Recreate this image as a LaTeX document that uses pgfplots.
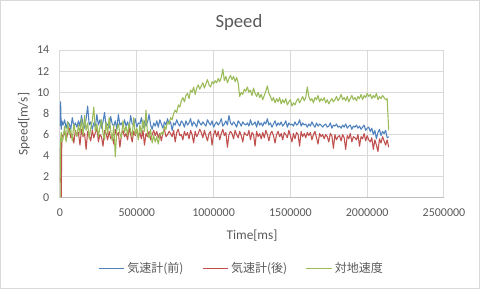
\documentclass[border=0pt]{standalone}
\usepackage{fontspec}
\setmainfont{Carlito}
\newfontfamily\cjk{Noto Sans CJK JP}
\usepackage{pgfplots}
\usepackage{pgfplotstable}
\pgfplotsset{compat=1.18}
\definecolor{txt}{HTML}{595959}
\definecolor{grd}{HTML}{D9D9D9}
\definecolor{axl}{HTML}{BFBFBF}
\definecolor{cB}{HTML}{4F81BD}
\definecolor{cR}{HTML}{C0504D}
\definecolor{cG}{HTML}{9BBB59}
\pgfplotstableread{
t B R G
0 6.8 1.5 0
4000 9.1 5.2 5.5
8000 6.5 0.1 6.2
12000 7.3 6.0 5.3
20000 6.9 5.8 5.6
30000 7.4 6.3 6.8
40000 6.6 5.5 5.3
50000 7.2 6.1 7.2
60000 7.0 6.6 6.0
70000 6.5 5.7 6.5
80000 7.6 6.0 5.4
90000 6.8 5.2 7.0
100000 7.1 6.4 6.2
110000 6.7 5.9 5.8
120000 7.3 6.2 6.9
130000 6.8 5.0 6.1
140000 7.8 6.5 7.5
150000 7.0 5.8 5.9
160000 6.6 6.1 7.8
170000 7.5 4.6 6.4
180000 8.7 6.3 7.1
190000 6.9 5.9 5.6
200000 7.2 5.4 6.6
210000 6.5 6.4 7.3
220000 7.1 5.7 8.6
230000 6.7 6.2 6.3
240000 7.9 6.6 7.0
250000 6.9 5.3 5.8
260000 7.4 6.0 6.7
270000 6.6 5.8 7.4
280000 7.2 4.9 6.1
290000 8.1 6.4 5.5
300000 6.8 6.1 7.2
310000 7.0 5.5 6.0
320000 6.6 6.3 7.6
330000 7.7 5.6 6.4
340000 7.0 6.0 5.4
350000 6.8 5.1 6.9
360000 7.3 6.5 3.9
370000 6.5 5.9 6.5
380000 7.9 6.2 7.0
390000 6.9 4.8 6.1
400000 7.1 6.0 5.7
410000 6.7 6.4 7.3
420000 7.4 5.8 6.2
430000 6.8 6.1 6.8
440000 7.2 5.5 5.9
450000 6.6 6.6 7.1
460000 7.8 6.0 6.4
470000 7.0 5.3 5.8
480000 6.9 6.3 7.6
490000 7.5 5.9 6.0
500000 6.7 6.5 6.6
510000 7.1 5.7 5.5
520000 7.0 6.2 6.9
530000 7.6 5.6 6.1
540000 6.6 6.4 7.4
550000 7.3 5.0 6.3
560000 6.8 6.1 8.3
570000 7.2 5.8 6.0
580000 7.9 6.3 5.7
590000 6.9 5.5 6.5
600000 6.5 6.0 5.2
610000 7.1 6.4 5.9
620000 6.8 5.9 5.3
630000 7.3 6.3 5.8
640000 6.7 5.7 5.1
650000 7.4 6.1 5.9
660000 7.0 5.4 6.2
670000 6.6 6.2 6.0
680000 7.2 6.5 6.8
690000 6.9 5.8 6.5
700000 7.5 6.0 7.2
710000 7.0 6.3 7.0
720000 7.2 6.1 7.6
730000 6.4 5.8 7.4
740000 7.1 6.4 8.0
750000 6.9 5.3 8.3
760000 7.4 6.2 8.1
770000 7.0 6.5 8.8
780000 6.8 5.9 8.6
790000 7.3 6.0 9.2
800000 7.1 5.5 9.5
810000 6.7 6.3 9.1
820000 7.3 5.9 9.7
830000 6.9 6.2 9.9
840000 7.1 5.6 9.4
850000 7.5 6.4 10.2
860000 6.8 6.0 10.0
870000 7.2 5.2 10.5
880000 7.0 6.3 9.8
890000 6.7 5.8 10.4
900000 7.4 6.1 10.7
910000 7.1 6.5 10.3
920000 6.9 6.2 10.6
930000 7.2 5.7 10.9
940000 7.0 6.4 10.4
950000 6.8 5.9 10.8
960000 7.4 5.4 11.2
970000 7.1 6.1 10.7
980000 6.9 6.3 10.5
990000 7.3 5.0 11.0
1000000 6.7 6.0 10.8
1010000 7.0 6.4 11.1
1020000 7.2 5.8 10.9
1030000 6.9 6.3 11.3
1040000 7.1 5.5 11.0
1050000 7.5 6.1 11.4
1060000 6.8 6.5 12.2
1070000 7.0 5.9 11.1
1080000 7.3 6.2 11.5
1090000 6.9 4.8 10.9
1100000 7.8 6.0 11.3
1110000 7.1 6.3 11.6
1120000 6.9 6.1 11.2
1130000 7.2 5.6 11.5
1140000 7.0 6.4 11.0
1150000 6.7 6.0 11.4
1160000 7.3 5.7 10.9
1170000 7.1 6.3 9.6
1180000 6.8 5.9 10.0
1190000 7.2 5.3 9.8
1200000 7.0 6.2 10.3
1210000 6.9 6.0 10.1
1220000 7.1 5.9 10.5
1230000 6.8 6.4 10.0
1240000 7.4 5.5 10.2
1250000 6.9 6.2 9.7
1260000 7.0 6.0 10.4
1270000 7.2 4.9 9.9
1280000 6.7 6.3 9.6
1290000 7.3 5.8 10.0
1300000 6.9 6.1 9.5
1310000 7.1 5.6 9.8
1320000 6.8 6.2 9.3
1330000 7.2 5.7 9.7
1340000 7.0 6.4 10.1
1350000 7.5 6.0 10.6
1360000 6.9 5.4 9.9
1370000 7.1 6.1 9.6
1380000 6.7 6.3 9.2
1390000 7.0 5.9 9.5
1400000 7.3 5.2 9.0
1410000 6.8 6.0 9.4
1420000 7.1 6.3 9.1
1430000 6.9 5.8 9.5
1440000 7.2 6.1 8.9
1450000 6.8 5.5 9.3
1460000 7.0 6.2 9.0
1470000 7.3 6.0 9.4
1480000 6.7 5.7 8.8
1490000 7.1 6.4 9.1
1500000 6.9 5.9 9.3
1510000 7.0 5.3 8.7
1520000 6.8 6.1 9.0
1530000 7.2 5.6 8.8
1540000 6.9 6.2 9.2
1550000 7.0 6.0 9.4
1560000 7.4 4.9 9.0
1570000 6.8 6.3 9.3
1580000 7.1 5.8 9.6
1590000 6.9 6.1 9.2
1600000 7.0 5.7 9.5
1610000 6.7 6.2 10.5
1620000 7.0 5.9 9.6
1630000 6.8 6.2 9.2
1640000 7.2 5.5 9.4
1650000 6.9 6.0 9.0
1660000 6.7 6.3 9.5
1670000 7.1 5.7 9.3
1680000 6.8 5.1 9.7
1690000 7.0 6.1 9.1
1700000 6.9 5.8 9.4
1710000 6.7 6.0 9.2
1720000 6.9 5.6 9.5
1730000 7.0 6.0 9.0
1740000 6.7 5.8 9.3
1750000 6.8 5.3 8.9
1760000 7.1 6.1 9.2
1770000 6.6 5.9 9.4
1780000 6.9 4.7 9.1
1790000 6.8 6.0 9.3
1800000 7.0 5.5 9.6
1810000 6.7 5.8 9.2
1820000 6.8 5.9 9.4
1830000 6.6 5.4 9.8
1840000 6.9 6.0 9.3
1850000 6.7 5.7 9.5
1860000 7.0 4.6 9.2
1870000 6.6 5.9 9.6
1880000 6.8 5.6 9.1
1890000 6.9 6.1 9.4
1900000 6.5 5.3 9.7
1910000 6.8 5.8 9.3
1920000 6.7 5.7 9.5
1930000 6.9 5.5 9.2
1940000 6.6 6.0 9.6
1950000 6.8 4.9 9.4
1960000 6.5 5.8 9.8
1970000 6.7 5.6 9.3
1980000 6.9 6.1 9.7
1990000 6.4 5.4 9.5
2000000 6.6 5.9 9.9
2010000 6.7 5.5 9.6
2020000 6.3 5.3 9.8
2030000 6.6 5.7 9.4
2040000 6.0 4.6 9.7
2050000 6.4 5.5 9.5
2060000 5.6 5.0 9.9
2070000 6.2 4.4 9.3
2080000 6.5 5.6 9.6
2090000 5.9 5.2 9.4
2100000 6.3 5.8 9.7
2110000 6.1 5.4 9.5
2120000 6.4 5.0 9.3
2130000 5.7 5.5 9.4
2140000 5.8 4.8 6.4
}\data
\begin{document}
\begin{tikzpicture}
\useasboundingbox (-45pt,-68.25pt) rectangle (315pt,148.5pt);
\draw[grd, line width=0.75pt] (-44.6pt,-67.9pt) rectangle (314.6pt,148.1pt);
\begin{axis}[at={(0,0)}, anchor=south west, scale only axis,
  width=288pt, height=111pt,
  xmin=0, xmax=2500000, ymin=0, ymax=14,
  xtick={0,500000,1000000,1500000,2000000,2500000},
  xticklabels={0,500000,1000000,1500000,2000000,2500000},
  ytick={0,2,4,6,8,10,12,14},
  yticklabels={0,2,4,6,8,10,12,14},
  scaled x ticks=false,
  tick label style={font=\fontsize{9}{11}\selectfont, text=txt},
  xticklabel style={yshift=-4.5pt},
  yticklabel style={xshift=-4.5pt},
  major tick length=0pt,
  axis x line*=bottom, axis y line*=left,
  x axis line style={draw=axl, line width=0.75pt, -},
  y axis line style={draw=none},
  grid=major, major grid style={draw=grd, line width=0.75pt},
  title={Speed},
  title style={at={(axis description cs:0.466,1.13)}, anchor=center, font=\fontsize{14}{17}\selectfont, text=txt},
  xlabel={Time[ms]},
  xlabel style={at={(axis description cs:0.5,-0.256)}, anchor=center, font=\fontsize{10}{12}\selectfont, text=txt},
  ylabel={Speed[m/s]},
  ylabel style={at={(axis description cs:-0.094,0.5)}, anchor=center, font=\fontsize{10}{12}\selectfont, text=txt},
  legend columns=3,
  legend style={at={(axis description cs:0.474,-0.473)}, anchor=center, draw=none, fill=none,
    font=\fontsize{9}{11}\selectfont\cjk, text=txt, /tikz/every even column/.append style={column sep=12pt}},
  legend image code/.code={\draw[#1, line width=0.75pt] (0pt,0pt) -- (19pt,0pt);},
  every axis plot/.append style={line width=0.8pt, line join=round},
]
\addplot[cB, mark=none] table[x=t, y=B]{\data};
\addlegendentry{気速計(前)}
\addplot[cR, mark=none] table[x=t, y=R]{\data};
\addlegendentry{気速計(後)}
\addplot[cG, mark=none] table[x=t, y=G]{\data};
\addlegendentry{対地速度}
\end{axis}
\end{tikzpicture}
\end{document}
